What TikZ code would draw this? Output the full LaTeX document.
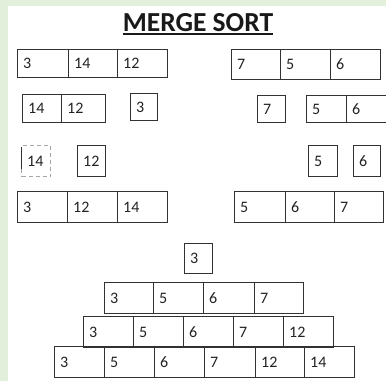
\documentclass[tikz,border=0pt]{standalone}
\usepackage{fontspec}
\setmainfont{Carlito}
\definecolor{bggreen}{RGB}{226,239,218}
\definecolor{boxc}{RGB}{50,50,50}
\definecolor{txtc}{RGB}{35,35,35}
\begin{document}
\begin{tikzpicture}[x=1pt,y=-1pt,
  cell/.style={draw=boxc, line width=1.2pt, anchor=north west, inner sep=0pt,
    minimum height=29pt, minimum width=#1pt},
  cell/.default=50,
  num/.style={anchor=west, inner sep=0pt, xshift=6pt, text=txtc, font=\fontsize{16}{16}\selectfont},
  dcell/.style={draw=gray!70, dash pattern=on 4pt off 3pt, line width=1pt, anchor=north west,
    inner sep=0pt, minimum height=31pt, minimum width=#1pt}
]
\useasboundingbox (0,0) rectangle (386,381);
\fill[bggreen] (0,0) rectangle (386,381);
\fill[white] (8,6) rectangle (386,381);

% title
\node[anchor=base, inner sep=0pt, font=\fontsize{27.5}{27.5}\selectfont\bfseries, text=black!90] (title) at (198,31) {MERGE SORT};
\draw[line width=1.4pt, black!90] ([yshift=-3pt]title.base west) -- ([yshift=-3pt]title.base east);

% row 1
\node[cell=51, minimum height=28pt, label={[num]west:3}] (a1) at (17,49) {};
\node[cell=49, minimum height=28pt, label={[num]west:14}] (a2) at (68,49) {};
\node[cell=50, minimum height=28pt, label={[num]west:12}] (a3) at (117,49) {};
\node[cell=49, minimum height=30pt, label={[num]west:7}] (b1) at (231,49) {};
\node[cell=50, minimum height=30pt, label={[num]west:5}] (b2) at (280,49) {};
\node[cell=50, minimum height=30pt, label={[num]west:6}] (b3) at (330,49) {};

% row 2
\node[cell=39, minimum height=28pt, label={[num]west:14}] (c1) at (22,94) {};
\node[cell=44, minimum height=28pt, label={[num]west:12}] (c2) at (61,94) {};
\node[cell=27, minimum height=27pt, label={[num]west:3}] (c3) at (130,93) {};
\node[cell=28, minimum height=27pt, label={[num]west:7}] (d1) at (257,95) {};
\node[cell=40, minimum height=27pt, label={[num]west:5}] (d2) at (306,95) {};
\node[cell=50, minimum height=27pt, label={[num]west:6}] (d3) at (346,95) {};

% row 3
\node[dcell=29, label={[num]west:14}] (e1) at (21,145) {};
\draw[boxc, line width=1pt] ([yshift=-2pt]e1.north west) -- ([yshift=8pt]e1.south west);
\node[cell=28, minimum height=31pt, label={[num]west:12}] (e2) at (77,145) {};
\node[cell=29, minimum height=31pt, label={[num]west:5}] (f1) at (308,145) {};
\node[cell=27, minimum height=31pt, label={[num]west:6}] (f2) at (353,145) {};

% row 4
\node[cell=50, minimum height=31pt, label={[num]west:3}] (g1) at (17,191) {};
\node[cell=50, minimum height=31pt, label={[num]west:12}] (g2) at (67,191) {};
\node[cell=50, minimum height=31pt, label={[num]west:14}] (g3) at (117,191) {};
\node[cell=51, minimum height=31pt, label={[num]west:5}] (h1) at (234,191) {};
\node[cell=49, minimum height=31pt, label={[num]west:6}] (h2) at (285,191) {};
\node[cell=49, minimum height=31pt, label={[num]west:7}] (h3) at (334,191) {};

% row 5
\node[cell=28, minimum height=30pt, label={[num]west:3}] (i1) at (184,243) {};

% row 6
\node[cell=49, minimum height=31pt, label={[num]west:3}] (j1) at (104,282) {};
\node[cell=50, minimum height=31pt, label={[num]west:5}] (j2) at (153,282) {};
\node[cell=51, minimum height=31pt, label={[num]west:6}] (j3) at (203,282) {};
\node[cell=49, minimum height=31pt, label={[num]west:7}] (j4) at (254,282) {};

% row 7
\node[cell=50, minimum height=31pt, label={[num]west:3}] (k1) at (83,316) {};
\node[cell=50, minimum height=31pt, label={[num]west:5}] (k2) at (133,316) {};
\node[cell=50, minimum height=31pt, label={[num]west:6}] (k3) at (183,316) {};
\node[cell=50, minimum height=31pt, label={[num]west:7}] (k4) at (233,316) {};
\node[cell=50, minimum height=31pt, label={[num]west:12}] (k5) at (283,316) {};

% row 8
\node[cell=50, minimum height=31pt, label={[num]west:3}] (l1) at (54,346) {};
\node[cell=50, minimum height=31pt, label={[num]west:5}] (l2) at (104,346) {};
\node[cell=50, minimum height=31pt, label={[num]west:6}] (l3) at (154,346) {};
\node[cell=51, minimum height=31pt, label={[num]west:7}] (l4) at (204,346) {};
\node[cell=49, minimum height=31pt, label={[num]west:12}] (l5) at (255,346) {};
\node[cell=50, minimum height=31pt, label={[num]west:14}] (l6) at (304,346) {};
\end{tikzpicture}
\end{document}
